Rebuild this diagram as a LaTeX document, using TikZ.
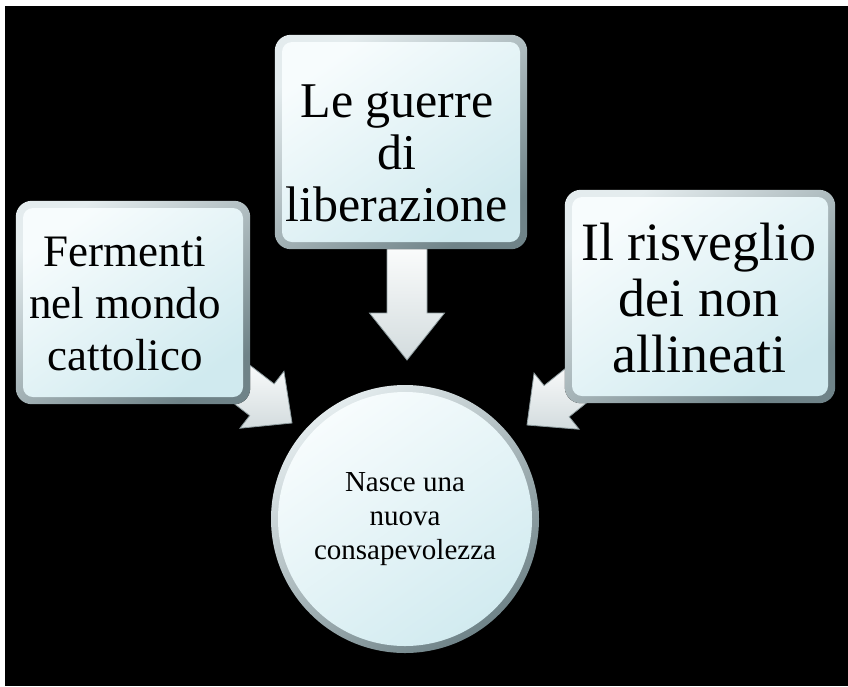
\documentclass[tikz,border=0pt]{standalone}
\usepackage{fontspec}
\setmainfont{Liberation Serif}
\pgfdeclarelayer{background}
\pgfsetlayers{background,main}
\definecolor{boxhi}{HTML}{F7FCFD}
\definecolor{boxlo}{HTML}{D0EAEF}
\definecolor{framehi}{HTML}{E4ECEE}
\definecolor{framelo}{HTML}{6F8388}
\definecolor{arrlo}{HTML}{D3DCDE}
\definecolor{arredge}{HTML}{8E9C9F}
\definecolor{circin}{HTML}{D2EBF0}
\tikzset{
  boxinner/.style={rectangle, rounded corners=10pt, top color=boxhi, bottom color=boxlo, shading angle=35, inner sep=0pt},
  frame/.style={rounded corners=16pt, top color=framehi, bottom color=framelo, shading angle=35},
  txt/.style={align=center, text=black, inner sep=0pt},
  arr/.style={top color=white, bottom color=arrlo, draw=arredge, line width=0.8pt, line join=miter},
}
\newcommand{\blockarr}[5]{% tip, angle, head length, head half width, total length
  \begin{scope}[shift={(#1)}, rotate=#2]
    \filldraw[arr] (0pt,0pt) -- (-#3pt,#4pt) -- (-#3pt,20pt) -- (-#5pt,20pt)
      -- (-#5pt,-20pt) -- (-#3pt,-20pt) -- (-#3pt,-#4pt) -- cycle;
  \end{scope}}
\begin{document}
\begin{tikzpicture}[x=1pt, y=-1pt]
\useasboundingbox (0,0) rectangle (848,686);

% boxes
\node[boxinner, minimum width=220pt, minimum height=189pt] (b1) at (133,302.5) {};
\node[boxinner, minimum width=238pt, minimum height=200pt] (b2) at (401,142) {};
\node[boxinner, minimum width=256pt, minimum height=199pt] (b3) at (700,296.5) {};
\node[circle, minimum size=254pt, inner sep=0pt, top color=boxhi, bottom color=circin, shading angle=35,
      align=center, font=\fontsize{29}{34}\selectfont] (c) at (405,519) {Nasce una\\nuova\\consapevolezza};

\node[txt, font=\fontsize{45}{52}\selectfont] (t1) at (125,304) {Fermenti\\nel mondo\\cattolico};
\node[txt, font=\fontsize{50}{52}\selectfont] (t2) at (397,153) {Le guerre\\di\\liberazione};
\node[txt, font=\fontsize{54}{56}\selectfont] (t3) at (699,298) {Il risveglio\\dei non\\allineati};

\coordinate (tipA) at (292,423);
\coordinate (tipB) at (407,360);
\coordinate (tipC) at (527,425);

\begin{pgfonlayer}{background}
  \fill[white] (0,0) rectangle (848,686);
  \fill[black] (5,6) rectangle (848,686);
  \blockarr{tipA}{-37.7}{38}{36}{85}
  \blockarr{tipB}{-90}{47}{37.5}{125}
  \blockarr{tipC}{-141.2}{38}{36}{85}
  \fill[frame] ([shift={(-7pt,7pt)}]b1.north west) rectangle ([shift={(7pt,-7pt)}]b1.south east);
  \fill[frame] ([shift={(-7pt,7pt)}]b2.north west) rectangle ([shift={(7pt,-7pt)}]b2.south east);
  \fill[frame] ([shift={(-7pt,7pt)}]b3.north west) rectangle ([shift={(7pt,-7pt)}]b3.south east);
  \shade[top color=framehi, bottom color=framelo, shading angle=35] (c.center) circle[radius=134pt];
\end{pgfonlayer}
\end{tikzpicture}
\end{document}
